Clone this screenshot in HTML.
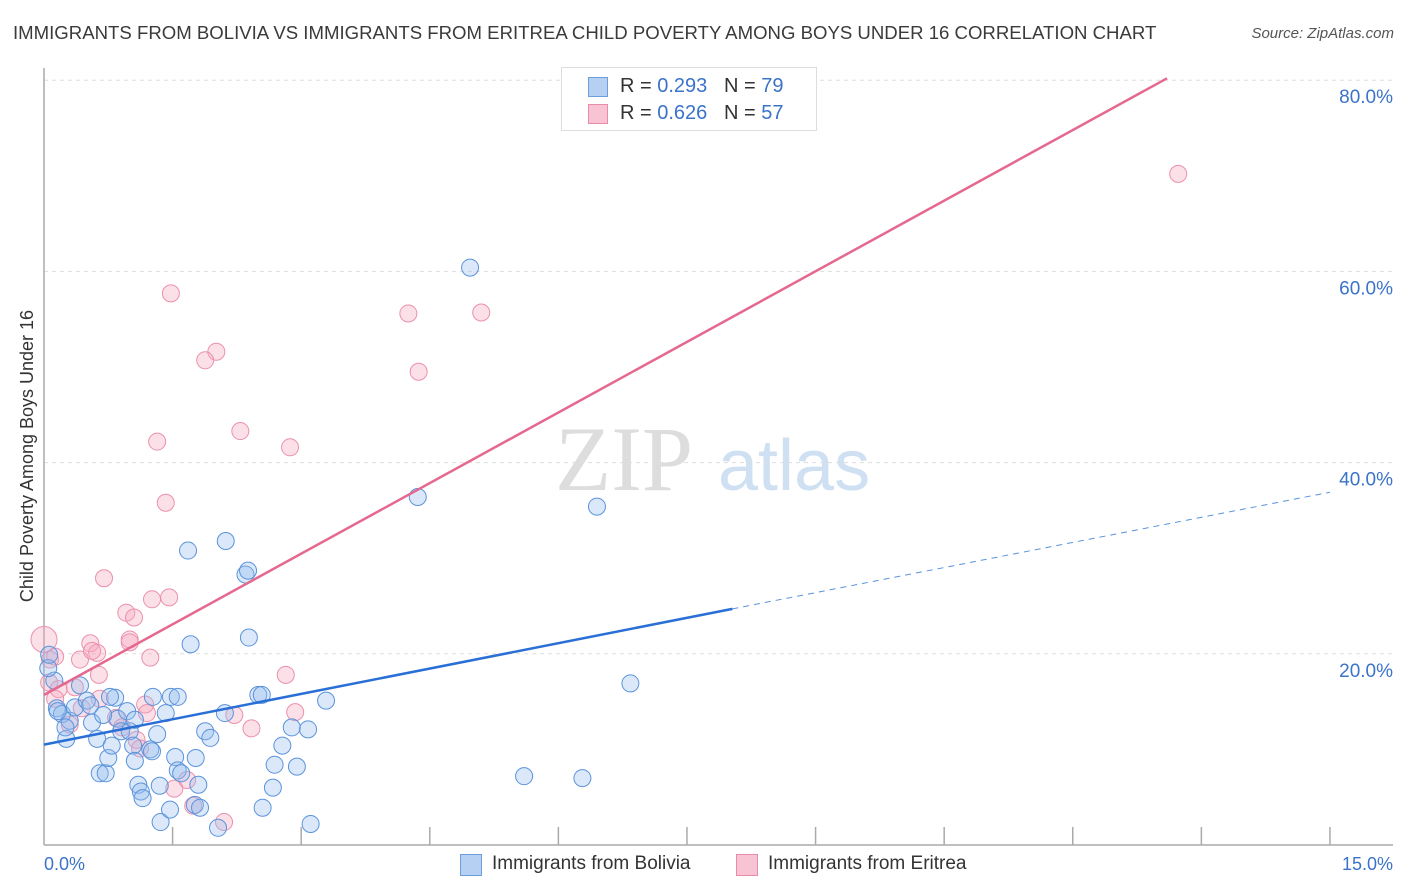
<!DOCTYPE html>
<html><head><meta charset="utf-8"><style>
body{margin:0;background:#fff;font-family:"Liberation Sans",sans-serif;}
#wrap{position:relative;width:1406px;height:892px;overflow:hidden;}
.t{position:absolute;white-space:nowrap;}
</style></head><body>
<div id="wrap">
<div class="t" style="left:13px;top:22px;font-size:18.6px;color:#3a3a3a;">IMMIGRANTS FROM BOLIVIA VS IMMIGRANTS FROM ERITREA CHILD POVERTY AMONG BOYS UNDER 16 CORRELATION CHART</div>
<div class="t" style="right:12px;top:25px;font-size:15px;color:#555;font-style:italic;">Source: ZipAtlas.com</div>
<svg id="svg" width="1406" height="892" style="position:absolute;left:0;top:0">
<text x="555" y="490" font-family="Liberation Serif" font-size="92" fill="#ddd">ZIP</text>
<text x="718" y="490" font-family="Liberation Sans" font-size="72" fill="#cfe0f3">atlas</text>
<g id="grid"></g><g id="pts"></g><g id="lines"></g>
<text transform="translate(33,456) rotate(-90)" text-anchor="middle" font-size="18" fill="#333">Child Poverty Among Boys Under 16</text>
<text x="44" y="870" font-size="18" fill="#3b73c9">0.0%</text>
<text x="1393" y="870" text-anchor="end" font-size="18" fill="#3b73c9">15.0%</text>
</svg>
<div style="position:absolute;left:561px;top:67px;width:254px;height:62px;border:1px solid #ddd;background:#fff;font-size:20px;color:#333;">
<div style="position:absolute;left:26px;top:9px;width:18px;height:18px;background:#b5d0f2;border:1px solid #6a9fdc"></div>
<div class="t" style="left:58px;top:7px">R = <span style="color:#3b73c9">0.293</span>&nbsp;&nbsp;&nbsp;N = <span style="color:#3b73c9">79</span></div>
<div style="position:absolute;left:26px;top:36px;width:18px;height:18px;background:#f8c4d4;border:1px solid #e88aa8"></div>
<div class="t" style="left:58px;top:34px">R = <span style="color:#3b73c9">0.626</span>&nbsp;&nbsp;&nbsp;N = <span style="color:#3b73c9">57</span></div>
</div>
<div style="position:absolute;left:460px;top:852px;font-size:19px;color:#333;">
<div style="position:absolute;left:0;top:2px;width:20px;height:20px;background:#b5d0f2;border:1px solid #6a9fdc"></div>
<div class="t" style="left:32px;top:1px">Immigrants from Bolivia</div>
<div style="position:absolute;left:276px;top:2px;width:20px;height:20px;background:#f8c4d4;border:1px solid #e88aa8"></div>
<div class="t" style="left:308px;top:1px">Immigrants from Eritrea</div>
</div>
</div>
<script>
const yTicks=[20,40,60,80];
const xTickVals=[1.5,3,4.5,6,7.5,9,10.5,12,13.5,15];
const boliviaX=[4.97,4.36,6.45,1.68,2.12,2.35,2.38,1.71,2.39,6.84,5.6,6.28,0.12,0.15,0.21,0.26,0.30,0.36,0.42,0.50,0.56,0.62,0.65,0.72,0.75,0.79,0.83,0.86,0.90,0.97,1.00,1.04,1.06,1.10,1.13,1.15,1.24,1.26,1.27,1.32,1.35,1.36,1.42,1.48,1.53,1.56,1.56,1.60,1.76,1.80,1.82,1.77,1.88,1.94,2.03,2.50,2.54,2.67,2.69,2.78,2.89,2.95,3.08,3.11,3.29,2.55,0.25,0.05,0.06,0.16,0.54,0.69,1.06,0.77,2.11,1.47];
const boliviaY=[60.4,36.4,35.4,30.8,31.8,28.3,28.7,21.0,21.7,16.9,7.2,7.0,17.2,14.3,13.7,11.1,13.0,14.4,16.7,15.1,12.8,11.1,7.5,7.5,9.1,10.4,15.4,13.2,11.9,14.0,11.9,10.4,8.8,6.3,5.6,4.9,10.0,9.8,15.5,11.6,6.2,2.4,13.8,15.5,9.2,15.5,7.8,7.5,4.2,6.3,3.9,9.1,11.9,11.2,1.8,15.7,15.7,6.0,8.4,10.4,12.3,8.2,12.1,2.2,15.1,3.9,12.3,18.5,19.9,14.0,14.6,13.6,13.1,15.5,13.8,3.7];
const eritreaX=[13.23,4.25,5.1,1.48,2.01,1.88,4.37,2.29,1.32,2.87,1.42,0.70,1.26,1.46,0.96,1.05,0.54,0.62,0.42,1.00,0.56,1.00,1.24,0,0.07,0.13,0.06,0.17,0.36,0.64,0.30,0.44,0.84,0.91,1.18,1.20,1.08,1.12,2.22,2.42,2.82,2.93,1.67,1.52,1.74,2.10,0.13,0.65];
const eritreaY=[70.2,55.6,55.7,57.7,51.6,50.7,49.5,43.3,42.2,41.6,35.8,27.9,25.7,25.9,24.3,23.8,21.1,20.1,19.4,21.5,20.3,21.2,19.6,21.5,19.4,19.7,17.0,16.3,16.5,17.8,12.6,14.3,13.3,12.3,14.7,13.8,11.0,10.1,13.6,12.2,17.8,13.9,6.8,5.9,4.1,2.4,15.3,15.3];
const boliviaLine=[[0,10.5],[8.03,24.7]];
const boliviaDash=[[8.03,24.7],[15,36.9]];
const eritreaLine=[[0,15.7],[13.1,80.2]];
const X=v=>44+v*85.73, Y=v=>845-v*9.56;
const NS='http://www.w3.org/2000/svg';
const g=document.getElementById('grid'),p=document.getElementById('pts'),l=document.getElementById('lines'),svg=document.getElementById('svg');
function mk(tag,at,par){const e=document.createElementNS(NS,tag);for(const k in at)e.setAttribute(k,at[k]);par.appendChild(e);return e;}
yTicks.forEach(v=>{
 const ln=mk('line',{x1:44,x2:1393,y1:Y(v),y2:Y(v),stroke:'#ddd','stroke-dasharray':'4,4'},g);
 
 
 const t=mk('text',{x:1393,y:Y(v)+23,'text-anchor':'end','font-size':19,fill:'#3b73c9'},svg);
 t.textContent=v.toFixed(1)+'%';
 
 
});
const ax=mk('line',{x1:44,x2:1393,y1:845,y2:845,stroke:'#aaa','stroke-width':1.5},g);


const ay=mk('line',{x1:44,x2:44,y1:68,y2:845,stroke:'#aaa','stroke-width':1.5},g);


xTickVals.forEach(v=>{
 const t=mk('line',{x1:X(v),x2:X(v),y1:827,y2:845,stroke:'#aaa','stroke-width':1.5},g);
 
 
});
eritreaX.forEach((v,i)=>{
 const c=mk('circle',{cx:X(v),cy:Y(eritreaY[i]),r:i==23?13:8.5,fill:'rgba(245,165,190,0.35)',stroke:'#eb90ae','stroke-width':1},p);
 
 
});
boliviaX.forEach((v,i)=>{
 const c=mk('circle',{cx:X(v),cy:Y(boliviaY[i]),r:8.5,fill:'rgba(150,190,238,0.35)',stroke:'#5b93dc','stroke-width':1},p);
 
 
});
const a=mk('line',{x1:X(boliviaLine[0][0]),y1:Y(boliviaLine[0][1]),x2:X(boliviaLine[1][0]),y2:Y(boliviaLine[1][1]),stroke:'#2a6fd6','stroke-width':2.5},l);


const b=mk('line',{x1:X(boliviaDash[0][0]),y1:Y(boliviaDash[0][1]),x2:X(boliviaDash[1][0]),y2:Y(boliviaDash[1][1]),stroke:'#5b93dc','stroke-width':1,'stroke-dasharray':'6,5'},l);


const c2=mk('line',{x1:X(eritreaLine[0][0]),y1:Y(eritreaLine[0][1]),x2:X(eritreaLine[1][0]),y2:Y(eritreaLine[1][1]),stroke:'#e5688f','stroke-width':2.5},l);


</script>
</body></html>
